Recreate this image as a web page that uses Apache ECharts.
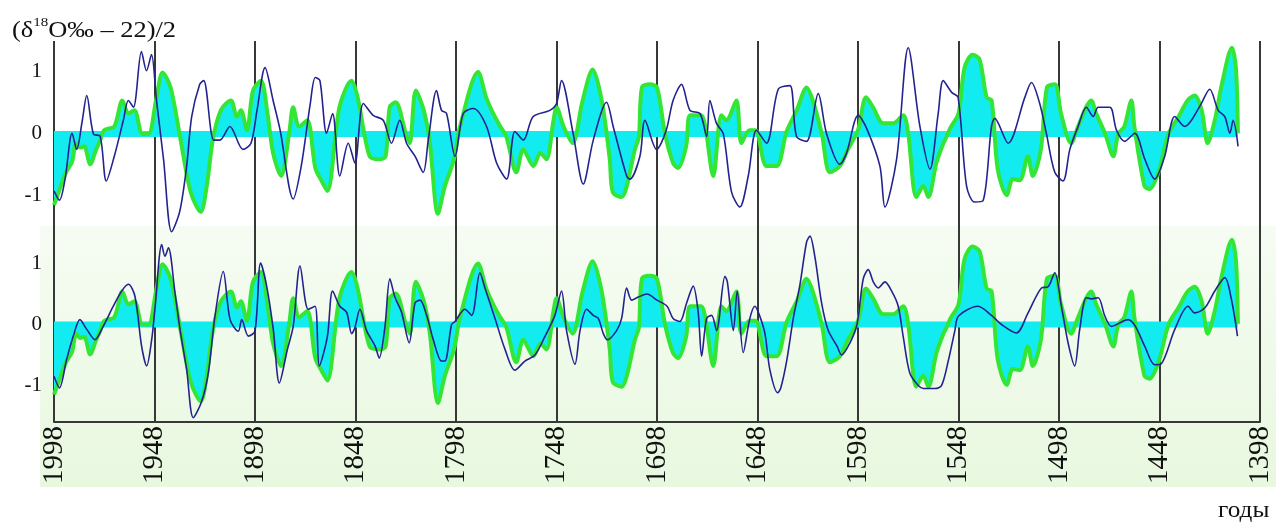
<!DOCTYPE html>
<html>
<head>
<meta charset="utf-8">
<script src="https://cdn.jsdelivr.net/npm/echarts@6/dist/echarts.min.js"></script>
<style>
  html, body { margin: 0; padding: 0; background: #fff; }
  #chart { width: 1278px; height: 522px; }
</style>
</head>
<body>
<div id="chart"></div>
<script>
// years run right to left, 1998 -> 1398
const yearMin = 1398
const yearMax = 1998
const yearStep = 50
const yTicks = [-1, 0, 1]

// (d18O - 22)/2, drawn in both panels
const greenO18 = [
  [1998, -1.15], [1995, -0.88], [1992, -0.62], [1989, -0.45], [1987, -0.15], [1985, -0.22],
  [1983, -0.2], [1980, -0.49], [1977, -0.25], [1975, -0.1], [1973, 0.06], [1968, 0.12],
  [1964, 0.54], [1961, 0.33], [1958, 0.38], [1954, 0.0], [1951, 0.0], [1947, 0.59],
  [1944, 0.99], [1940, 0.75], [1935, -0.1], [1930, -0.94], [1925, -1.26], [1922, -0.84],
  [1919, -0.1], [1915, 0.38], [1910, 0.54], [1907, 0.28], [1905, 0.38], [1902, 0.06],
  [1899, 0.7], [1895, 0.86], [1892, 0.38], [1889, -0.31], [1885, -0.68], [1881, 0.01],
  [1879, 0.43], [1876, 0.12], [1872, 0.22], [1868, -0.55], [1865, -0.75], [1862, -0.92],
  [1856, 0.43], [1850, 0.86], [1847, 0.6], [1841, -0.36], [1836, -0.41], [1833, -0.36],
  [1831, 0.43], [1828, 0.51], [1823, 0.01], [1821, -0.15], [1818, 0.7], [1814, 0.38],
  [1811, -0.15], [1807, -1.29], [1803.5, -0.84], [1799, -0.41], [1796, 0.12], [1787, 1.0],
  [1783, 0.59], [1779.5, 0.33], [1776, 0.12], [1773, -0.04], [1768, -0.62], [1764.5, -0.25],
  [1759.5, -0.52], [1756, -0.31], [1753, -0.41], [1749.5, 0.22], [1748, 0.43], [1744.5, 0.12],
  [1740, -0.15], [1735, 0.54], [1730, 1.04], [1725.5, 0.54], [1721.5, -0.41], [1720, -0.94],
  [1715.5, -1.02], [1713, -0.84], [1709, -0.25], [1707, -0.05], [1705.5, 0.75], [1701.5, 0.8],
  [1698, 0.75], [1694, 0.0], [1690, -0.47], [1687.5, -0.55], [1683.5, -0.2], [1681.5, 0.3],
  [1676, 0.3], [1674, 0.12], [1670, -0.68], [1666, 0.3], [1663.5, 0.22], [1658.5, 0.54],
  [1656, -0.15], [1652, 0.06], [1649, 0.06], [1643.5, -0.52], [1638.5, -0.52], [1633.5, 0.04],
  [1628.5, 0.38], [1623.5, 0.75], [1620.5, 0.54], [1616, 0.0], [1612, -0.62], [1607, -0.52],
  [1603, -0.25], [1598, 0.06], [1594, 0.59], [1590.5, 0.43], [1585.5, 0.17], [1580.5, 0.17],
  [1575.5, 0.3], [1573, 0.0], [1569, -1.02], [1565.5, -0.84], [1563, -1.02], [1559, -0.47],
  [1555.5, -0.15], [1554, -0.05], [1552, 0.1], [1548, 0.33], [1545, 1.07], [1541, 1.28],
  [1537.5, 1.2], [1534, 0.59], [1531.5, 0.54], [1528.5, -0.57], [1524, -0.99], [1521, -0.73],
  [1517.5, -0.75], [1513.5, -0.36], [1511, -0.68], [1507, -0.25], [1504, 0.75], [1500, 0.8],
  [1497, 0.33], [1492, -0.15], [1488.5, 0.12], [1484.5, 0.43], [1482, 0.54], [1479.5, 0.33],
  [1475, 0.0], [1471, -0.36], [1468.5, 0.0], [1465.5, 0.12], [1462, 0.54], [1460.5, 0.12],
  [1455.5, -0.84], [1453, -0.89], [1448.5, -0.62], [1443.5, 0.0], [1438.5, 0.28], [1434, 0.54],
  [1430.5, 0.62], [1427, 0.38], [1424, -0.15], [1420.5, 0.22], [1417, 0.8], [1412, 1.39],
  [1410, 1.07], [1409, 0.01]
]

// blue curve, upper panel
const blueUpper = [
  [1998, -0.92], [1995.3, -1.07], [1992.5, -0.73], [1989, 0.01], [1986.7, -0.25], [1984, 0.2],
  [1981.7, 0.62], [1978.4, 0.0], [1975, -0.04], [1972, -0.76], [1968, -0.36], [1963.5, 0.22],
  [1961, 0.54], [1958.5, 0.43], [1954.5, 1.33], [1952, 1.02], [1949.5, 1.28], [1947, 0.54],
  [1943.5, -0.41], [1939.5, -1.58], [1935.5, -1.26], [1932, -0.52], [1929.5, 0.28], [1925.5, 0.8],
  [1923.5, 0.86], [1918.5, -0.1], [1915.5, -0.1], [1910.5, 0.12], [1904, -0.25], [1900, -0.15],
  [1897, 0.38], [1893, 1.07], [1889, 0.54], [1885.5, 0.06], [1879, -1.05], [1875, -0.52],
  [1870.5, 0.49], [1868, 0.91], [1865.7, 0.86], [1862.4, 0.01], [1859.4, 0.33], [1855.8, -0.68],
  [1851.6, -0.15], [1848.3, -0.47], [1844.1, 0.49], [1839.2, 0.3], [1834.2, 0.22], [1830.1, -0.15],
  [1826, 0.22], [1822.6, -0.15], [1818.4, -0.36], [1814.3, -0.62], [1811.8, -0.1], [1807.7, 0.7],
  [1805.2, 0.38], [1802.7, 0.33], [1798.5, -0.36], [1794.4, 0.33], [1789.4, 0.41], [1782.8, 0.12],
  [1777.8, -0.47], [1772.8, -0.73], [1768.7, 0.04], [1764.5, -0.1], [1759.6, 0.28], [1751.3, 0.38],
  [1748, 0.49], [1745.5, 0.86], [1739.7, 0.0], [1734.7, -0.81], [1729.7, -0.1], [1723.1, 0.51],
  [1719.8, 0.12], [1713.1, -0.68], [1711.5, -0.73], [1706.5, -0.36], [1704, 0.22], [1698.2, -0.25],
  [1693.5, 0.05], [1690, 0.54], [1685.8, 0.8], [1681.6, 0.38], [1676.6, 0.33], [1673.3, -0.04],
  [1671.7, 0.54], [1668.4, 0.17], [1665, 0.0], [1660.9, -0.94], [1656.8, -1.18], [1652.6, -0.68],
  [1648.5, 0.06], [1643.5, -0.15], [1637.7, 0.72], [1631.9, 0.78], [1628.6, -0.04], [1623.6, -0.12],
  [1617.8, 0.65], [1613.6, 0.0], [1607, -0.49], [1603.7, -0.31], [1597.9, 0.3], [1593.7, 0.09],
  [1587.1, -0.52], [1584.6, -1.18], [1578.8, -0.41], [1573, 1.39], [1567.2, 0.12], [1562.2, -0.57],
  [1558.1, 0.33], [1555.6, 0.86], [1551.4, 0.67], [1548.2, 0.59], [1544, -0.84], [1540, -1.1],
  [1535.8, -1.08], [1531.6, 0.12], [1530, 0.25], [1523.3, -0.15], [1515, 0.59], [1511.7, 0.83],
  [1507.6, 0.49], [1504.3, 0.01], [1500.1, -0.62], [1496, -0.76], [1492.6, -0.25], [1488.5, 0.12],
  [1484.4, 0.43], [1481, 0.28], [1478.5, 0.43], [1472.7, 0.43], [1469.4, 0.06], [1465.3, -0.12],
  [1460.3, 0.01], [1455.3, -0.41], [1450.4, -0.73], [1445.4, -0.36], [1440.4, 0.28], [1435.4, 0.12],
  [1432.1, 0.22], [1427.2, 0.49], [1423, 0.72], [1418.8, 0.38], [1415.5, 0.28], [1413, 0.01],
  [1411.4, 0.22], [1408.9, -0.2]
]

// blue curve, lower panel
const blueLower = [
  [1998, -0.85], [1995.3, -1.04], [1991.7, -0.57], [1988.4, -0.19], [1985.1, 0.08], [1981.7, -0.08],
  [1977.6, -0.25], [1973.5, -0.03], [1968.5, 0.3], [1964.3, 0.55], [1961, 0.66], [1957.7, 0.46],
  [1954.4, -0.36], [1951.9, -0.68], [1949.4, -0.25], [1947.8, 0.25], [1944.4, 1.31], [1942.8, 1.12],
  [1941.1, 1.26], [1937.8, 0.52], [1935.3, -0.08], [1932, -0.74], [1928.7, -1.53], [1924.5, -1.26],
  [1921.2, -0.79], [1917.9, 0.14], [1913.8, 0.87], [1910.4, 0.08], [1906.3, -0.11], [1904.6, 0.08],
  [1901.3, -0.19], [1898, -0.11], [1895.2, 1.01], [1892.2, 0.63], [1888.9, -0.08], [1885.9, -0.96],
  [1881.9, -0.41], [1879, -0.03], [1875.6, 0.96], [1871.5, 0.25], [1868.1, 0.3], [1866, -0.68],
  [1862, -0.2], [1859.4, 0.55], [1855.8, 0.3], [1852.4, 0.2], [1849.9, -0.15], [1848.3, -0.05],
  [1845.8, 0.25], [1842.5, -0.1], [1838.3, -0.35], [1836.2, -0.55], [1833.4, -0.05], [1830.9, 0.75],
  [1828.4, 0.45], [1825.1, 0.2], [1821.3, -0.3], [1818.4, 0.35], [1815.9, 0.4], [1812.6, 0.15],
  [1809.3, -0.25], [1805.2, -0.6], [1803.5, -0.6], [1800.2, 0.0], [1798.5, 0.05], [1793.6, 0.25],
  [1790.2, 0.15], [1786.1, 0.85], [1783.6, 0.6], [1778.6, 0.1], [1773.7, -0.4], [1768.7, -0.75],
  [1763.7, -0.6], [1758.7, -0.5], [1753.8, -0.2], [1748.8, 0.15], [1745.5, 0.55], [1743, -0.1],
  [1738.8, -0.65], [1736.3, -0.1], [1733, 0.25], [1729.7, 0.15], [1727.2, 0.1], [1724.7, -0.15],
  [1722.7, -0.25], [1718.1, -0.1], [1715.6, 0.1], [1713.1, 0.6], [1710.6, 0.4], [1707.3, 0.45],
  [1703, 0.5], [1698, 0.4], [1693, 0.3], [1690, 0.1], [1686.6, 0.05], [1683.3, 0.35],
  [1680, 0.63], [1677.5, 0.2], [1675.8, -0.52], [1673.3, 0.1], [1670.8, 0.15], [1668.4, -0.1],
  [1664.2, 0.79], [1663, 0.7], [1660, -0.1], [1658.1, 0.55], [1655.1, -0.46], [1651.8, 0.1],
  [1649.3, 0.3], [1647, 0.15], [1644.3, -0.15], [1641.8, -0.75], [1638, -1.12], [1636.5, -1.05],
  [1633.5, -0.6], [1630.2, 0.1], [1626.9, 0.65], [1623.6, 1.35], [1621.9, 1.45], [1619.4, 1.1],
  [1616.1, 0.35], [1612.8, -0.1], [1608.5, -0.35], [1606.2, -0.5], [1602, -0.3], [1598.5, 0.0],
  [1595.4, 0.75], [1592.9, 0.9], [1590.4, 0.7], [1587.9, 0.6], [1584.6, 0.7], [1581.3, 0.55],
  [1578, 0.3], [1575.5, -0.2], [1572.2, -0.8], [1568, -1.0], [1565.5, -1.05], [1559.7, -1.05],
  [1556.4, -1.0], [1553.1, -0.6], [1549.8, -0.1], [1548, 0.14], [1538.3, 0.3], [1531.6, 0.15],
  [1526.6, 0.0], [1519.2, -0.14], [1513.4, 0.19], [1506.7, 0.6], [1503.4, 0.62], [1500.1, 0.85],
  [1496.8, 0.3], [1493.5, -0.3], [1490.2, -0.68], [1487.7, -0.08], [1484.4, 0.44], [1481.9, 0.42],
  [1478.5, 0.44], [1475.2, 0.14], [1471.9, -0.03], [1463.6, 0.08], [1460, -0.03], [1455.3, -0.36],
  [1450.4, -0.66], [1447, -0.64], [1440.4, -0.08], [1433.8, 0.3], [1430.5, 0.19], [1425.5, 0.27],
  [1420.5, 0.55], [1415.5, 0.77], [1412.2, 0.41], [1409.2, -0.19]
]

const serif = "'Liberation Serif', 'DejaVu Serif', serif"
const cyan = '#12ecf0'
const green = '#33e635'
const navy = '#23238f'
const gridLine = '#383838'

const zeroBand = [[greenO18[0][0], 0], [greenO18[greenO18.length - 1][0], 0]]

const chart = echarts.init(document.getElementById('chart'), null, { renderer: 'canvas' })

const xAxisBase = (gridIndex) => ({
  type: 'value',
  gridIndex,
  min: yearMin,
  max: yearMax,
  interval: yearStep,
  inverse: true,
  axisTick: { show: false },
  splitLine: { show: true, lineStyle: { color: gridLine, width: 2 } },
})

const yAxisBase = (gridIndex, min, max) => ({
  type: 'value',
  gridIndex,
  min,
  max,
  axisLine: { show: false },
  axisTick: { show: false },
  splitLine: { show: false },
  axisLabel: {
    customValues: yTicks,
    color: '#111',
    fontFamily: serif,
    fontSize: 21,
    margin: 12,
  },
})

const panelSeries = (idx, blueData) => [
  {
    type: 'line',
    xAxisIndex: idx,
    yAxisIndex: idx,
    data: zeroBand,
    showSymbol: false,
    silent: true,
    lineStyle: { color: cyan, width: 6 },
    z: 1,
  },
  {
    type: 'line',
    xAxisIndex: idx,
    yAxisIndex: idx,
    data: greenO18,
    smooth: 0.3,
    showSymbol: false,
    silent: true,
    lineStyle: { color: green, width: 4 },
    areaStyle: { color: cyan, opacity: 1, origin: 0 },
    z: 2,
  },
  {
    type: 'line',
    xAxisIndex: idx,
    yAxisIndex: idx,
    data: blueData,
    smooth: 0.3,
    showSymbol: false,
    silent: true,
    lineStyle: { color: navy, width: 1.6 },
    z: 3,
  },
]

chart.setOption({
  animation: false,
  backgroundColor: '#fff',
  grid: [
    { left: 54, right: 18, top: 41, height: 192 },
    { left: 54, right: 18, top: 227, height: 195 },
  ],
  xAxis: [
    { ...xAxisBase(0), axisLine: { show: false }, axisLabel: { show: false } },
    {
      ...xAxisBase(1),
      axisLine: { show: true, onZero: false, lineStyle: { color: gridLine, width: 2 } },
      axisLabel: {
        rotate: 90,
        color: '#111',
        fontFamily: serif,
        fontSize: 29,
        margin: 4,
        formatter: (v) => String(v),
      },
    },
  ],
  yAxis: [yAxisBase(0, -1.6, 1.5), yAxisBase(1, -1.6, 1.6)],
  graphic: [
    {
      type: 'rect',
      z: -10,
      silent: true,
      shape: { x: 40, y: 226, width: 1236, height: 261 },
      style: {
        fill: new echarts.graphic.LinearGradient(0, 0, 0, 1, [
          { offset: 0, color: '#f6fcf3' },
          { offset: 1, color: '#e8f8df' },
        ]),
      },
    },
    {
      type: 'text',
      x: 12,
      y: 16,
      scaleX: 1.15,
      silent: true,
      style: {
        text: '{a|(δ}{s|18}{a|O‰ – 22)/2}',
        verticalAlign: 'top',
        fill: '#111',
        rich: {
          a: { fontFamily: serif, fontSize: 23, lineHeight: 30, fill: '#111' },
          s: { fontFamily: serif, fontSize: 13, lineHeight: 13, verticalAlign: 'top', fill: '#111' },
        },
      },
    },
    {
      type: 'text',
      x: 1218,
      y: 511,
      scaleX: 1.05,
      silent: true,
      style: {
        text: 'годы',
        fontFamily: serif,
        fontSize: 24,
        fill: '#111',
        verticalAlign: 'middle',
      },
    },
  ],
  series: [...panelSeries(0, blueUpper), ...panelSeries(1, blueLower)],
})
</script>
</body>
</html>
